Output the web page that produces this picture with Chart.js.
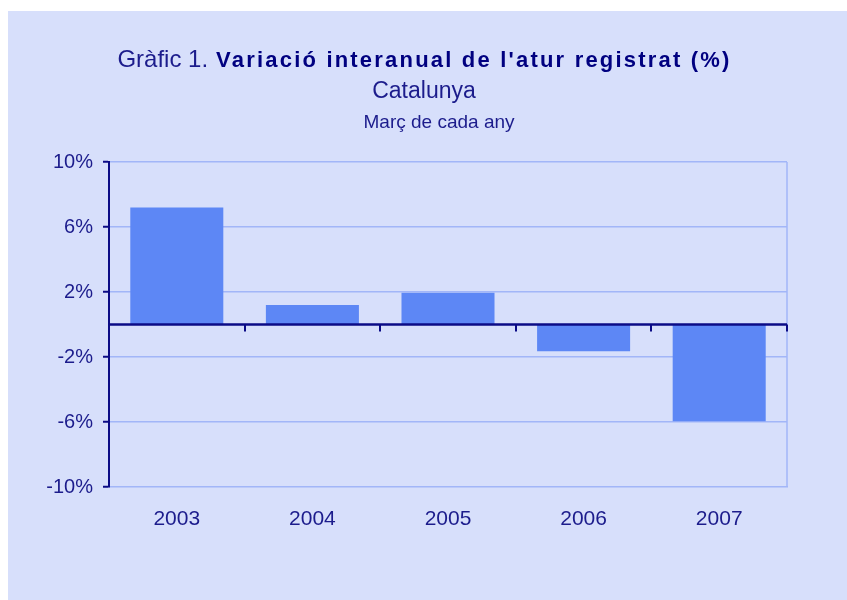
<!DOCTYPE html>
<html>
<head>
<meta charset="utf-8">
<script src="https://cdn.jsdelivr.net/npm/chart.js@4/dist/chart.umd.min.js"></script>
<style>
html,body{margin:0;padding:0;background:#ffffff;}
#wrap{width:847px;height:600px;position:relative;}
</style>
</head>
<body>
<div id="wrap"><canvas id="c" width="847" height="600"></canvas></div>
<script>
const categories = ['2003', '2004', '2005', '2006', '2007'];
const values = [7.2, 1.2, 1.95, -1.65, -5.95];
const titleRegular = 'Gràfic 1.';
const titleBold = "Variació interanual de l'atur registrat (%)";
const subtitle1 = 'Catalunya';
const subtitle2 = 'Març de cada any';
const yMin = -10, yMax = 10, yStep = 4;

const NAVY = '#0b0b86';
const TEXT = '#1c1c8c';
const GRID = '#a2b6f8';
const PANEL = '#d7dffb';
const BAR = '#5d87f5';
const FONT = "'Liberation Sans', Arial, Helvetica, sans-serif";

const decor = {
  id: 'decor',
  beforeDraw(chart) {
    const ctx = chart.ctx;
    ctx.save();
    ctx.fillStyle = PANEL;
    ctx.fillRect(8, 11, chart.width - 8, chart.height - 11);
    ctx.restore();
  },
  afterDraw(chart) {
    const ctx = chart.ctx;
    ctx.save();
    // title
    ctx.textBaseline = 'alphabetic';
    ctx.textAlign = 'left';
    ctx.font = '24px ' + FONT;
    const w1 = ctx.measureText(titleRegular).width;
    ctx.font = 'bold 22px ' + FONT;
    ctx.letterSpacing = '2.2px';
    const w2 = ctx.measureText(titleBold).width;
    const gap = 8;
    const total = w1 + gap + w2;
    const x0 = 424.5 - total / 2;
    ctx.letterSpacing = '0px';
    ctx.font = '24px ' + FONT;
    ctx.fillStyle = TEXT;
    ctx.fillText(titleRegular, x0, 67);
    ctx.font = 'bold 22px ' + FONT;
    ctx.letterSpacing = '2.2px';
    ctx.fillStyle = '#000080';
    ctx.fillText(titleBold, x0 + w1 + gap, 67);
    ctx.letterSpacing = '0px';
    ctx.textAlign = 'center';
    ctx.fillStyle = TEXT;
    ctx.font = '23px ' + FONT;
    ctx.fillText(subtitle1, 424, 98);
    ctx.font = '19px ' + FONT;
    ctx.fillText(subtitle2, 439, 128);
    ctx.restore();
  },
  afterDatasetsDraw(chart) {
    const ctx = chart.ctx;
    const x = chart.scales.x, y = chart.scales.y;
    const area = chart.chartArea;
    ctx.save();
    // right border of plot
    ctx.strokeStyle = GRID;
    ctx.lineWidth = 1.5;
    ctx.beginPath();
    ctx.moveTo(area.right, area.top);
    ctx.lineTo(area.right, area.bottom);
    ctx.stroke();
    // zero line
    const y0 = y.getPixelForValue(0);
    ctx.strokeStyle = NAVY;
    ctx.lineWidth = 2.5;
    ctx.beginPath();
    ctx.moveTo(area.left, y0);
    ctx.lineTo(area.right, y0);
    ctx.stroke();
    // category boundary ticks on zero line
    ctx.lineWidth = 2;
    const n = categories.length;
    const step = (x.right - x.left) / n;
    for (let i = 0; i <= n; i++) {
      const px = Math.round(x.left + i * step);
      ctx.beginPath();
      ctx.moveTo(px, y0);
      ctx.lineTo(px, y0 + 7);
      ctx.stroke();
    }
    ctx.restore();
  }
};

new Chart(document.getElementById('c'), {
  type: 'bar',
  data: {
    labels: categories,
    datasets: [{
      data: values,
      backgroundColor: BAR,
      borderWidth: 0,
      barPercentage: 0.686,
      categoryPercentage: 1.0
    }]
  },
  options: {
    responsive: false,
    animation: false,
    devicePixelRatio: 1,
    layout: { padding: { left: 30, right: 60, top: 162, bottom: 63 } },
    plugins: { legend: { display: false }, tooltip: { enabled: false }, title: { display: false } },
    scales: {
      x: {
        afterFit(s) { s.height = 50; },
        grid: { display: false, drawTicks: false },
        border: { display: true, color: GRID, width: 1.5 },
        ticks: { color: TEXT, font: { family: FONT, size: 21 }, padding: 20 }
      },
      y: {
        min: yMin, max: yMax,
        afterFit(s) { s.width = 79; },
        afterBuildTicks(s) {
          const t = [];
          for (let v = yMin; v <= yMax + 1e-9; v += yStep) t.push({ value: v });
          s.ticks = t;
        },
        grid: {
          color: (c) => (c.tick && c.tick.value === yMin) ? 'rgba(0,0,0,0)' : GRID,
          lineWidth: 1.5,
          tickColor: NAVY,
          tickLength: 6,
          tickWidth: 2
        },
        border: { display: true, color: NAVY, width: 2 },
        ticks: {
          color: TEXT,
          font: { family: FONT, size: 20 },
          padding: 10,
          callback: (v) => v + '%'
        }
      }
    }
  },
  plugins: [decor]
});
</script>
</body>
</html>
